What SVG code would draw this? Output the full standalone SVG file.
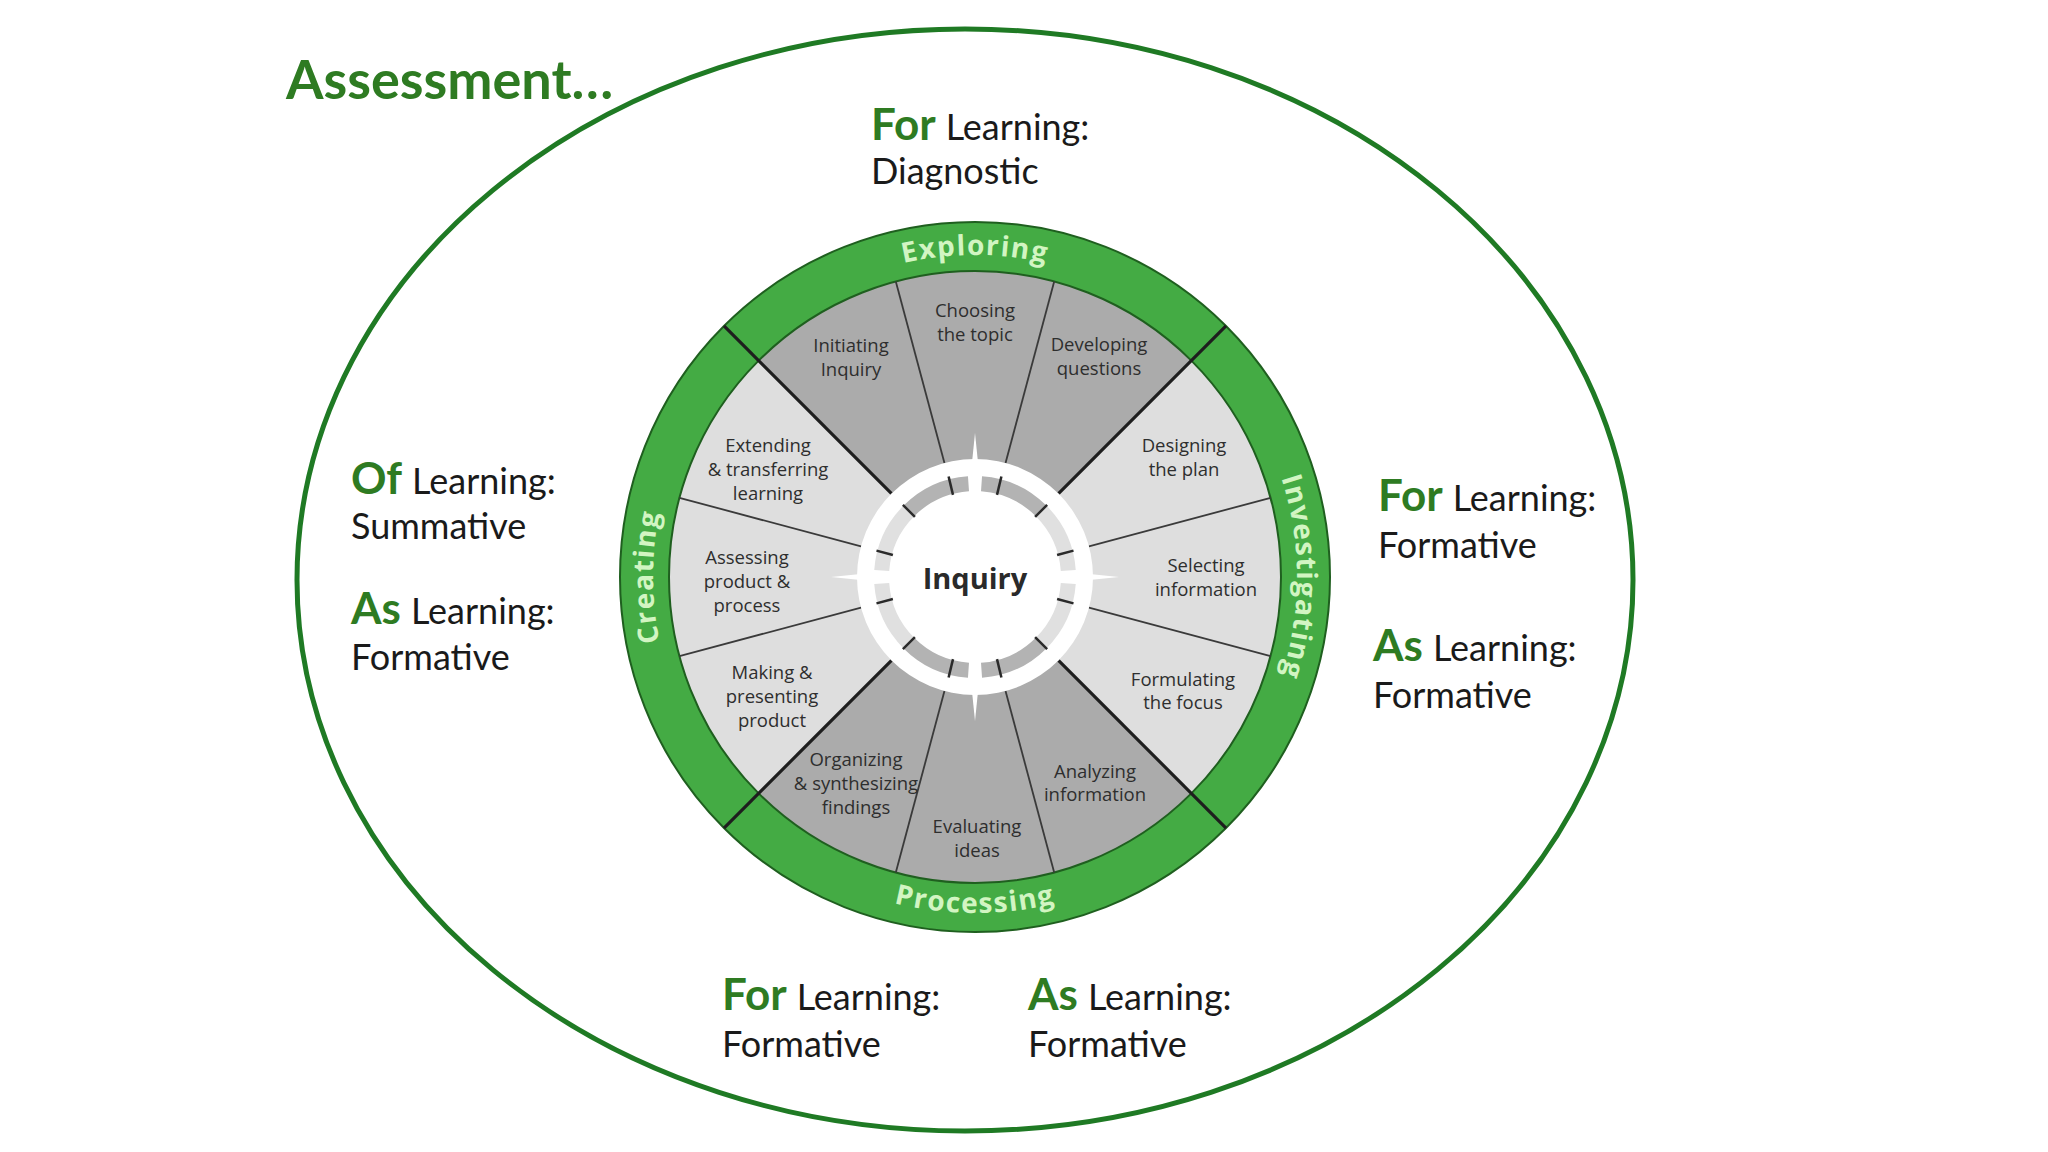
<svg xmlns="http://www.w3.org/2000/svg" xmlns:xlink="http://www.w3.org/1999/xlink" width="2048" height="1152" viewBox="0 0 2048 1152">
  <defs>
    <style>
      .outer-g { font-family: Lato, "Liberation Sans", sans-serif; font-weight: 700; fill: #2e7b22; }
      .outer-t { font-family: Lato, "Liberation Sans", sans-serif; font-weight: 400; fill: #1a1a1a; font-size: 36px; }
      .seg { font-family: "Open Sans", "Liberation Sans", sans-serif; font-size: 18.5px; fill: #2e2e2e; text-anchor: middle; }
      .ring-t { font-family: "Open Sans", "Liberation Sans", sans-serif; font-weight: 700; font-size: 28px; fill: #d2f5c2; letter-spacing: 1.5px; }
      .thin { stroke: #3a3a3a; stroke-width: 1.8; }
      .thick { stroke: #1e1e1e; stroke-width: 3.2; }
      .tick { stroke: #2a2a2a; stroke-width: 2.5; }
      .band-d { fill: none; stroke: #b3b3b3; stroke-width: 15; }
      .band-l { fill: none; stroke: #e0e0e0; stroke-width: 15; }
    </style>
    <path id="p-top" d="M653,577 A322,322 0 0 1 1297,577"/>
    <path id="p-right" d="M975,255 A322,322 0 0 1 975,899"/>
    <path id="p-bottom" d="M639,577 A336,336 0 0 0 1311,577"/>
    <path id="p-left" d="M975,899 A322,322 0 0 1 975,255"/>
  </defs>

  <rect width="2048" height="1152" fill="#ffffff"/>

  <g id="assessment-ellipse">
    <ellipse cx="965" cy="580" rx="668" ry="551" fill="none" stroke="#1f7a24" stroke-width="5"/>
  </g>

  <g id="title">
    <text class="outer-g" x="286" y="99" font-size="54">Assessment…</text>
  </g>

  <g id="label-top">
    <text x="871" y="140"><tspan class="outer-g" font-size="44">For</tspan><tspan class="outer-t" dx="10">Learning:</tspan></text>
    <text class="outer-t" x="871" y="184">Diagnostic</text>
  </g>
  <g id="label-left">
    <text x="351" y="494"><tspan class="outer-g" font-size="44">Of</tspan><tspan class="outer-t" dx="10">Learning:</tspan></text>
    <text class="outer-t" x="351" y="539">Summative</text>
    <text x="351" y="624"><tspan class="outer-g" font-size="44">As</tspan><tspan class="outer-t" dx="10">Learning:</tspan></text>
    <text class="outer-t" x="351" y="670">Formative</text>
  </g>
  <g id="label-right">
    <text x="1378" y="511"><tspan class="outer-g" font-size="44">For</tspan><tspan class="outer-t" dx="10">Learning:</tspan></text>
    <text class="outer-t" x="1378" y="558">Formative</text>
    <text x="1373" y="661"><tspan class="outer-g" font-size="44">As</tspan><tspan class="outer-t" dx="10">Learning:</tspan></text>
    <text class="outer-t" x="1373" y="708">Formative</text>
  </g>
  <g id="label-bottom">
    <text x="722" y="1010"><tspan class="outer-g" font-size="44">For</tspan><tspan class="outer-t" dx="10">Learning:</tspan></text>
    <text class="outer-t" x="722" y="1057">Formative</text>
    <text x="1028" y="1010"><tspan class="outer-g" font-size="44">As</tspan><tspan class="outer-t" dx="10">Learning:</tspan></text>
    <text class="outer-t" x="1028" y="1057">Formative</text>
  </g>

  <g id="wheel">
    <g id="segments">
      <circle cx="975" cy="577" r="306" fill="#dedede"/>
      <path d="M975,577 L1191.37,360.63 A306,306 0 0 0 758.63,360.63 Z" fill="#ababab"/>
      <path d="M975,577 L758.63,793.37 A306,306 0 0 0 1191.37,793.37 Z" fill="#ababab"/>
    </g>
    <g id="phase-ring">
      <circle cx="975" cy="577" r="330.5" fill="none" stroke="#44ab44" stroke-width="49"/>
      <circle cx="975" cy="577" r="355" fill="none" stroke="#1f5f1f" stroke-width="2"/>
      <circle cx="975" cy="577" r="306" fill="none" stroke="#1f5f1f" stroke-width="2"/>
    </g>
    <g id="connectors">
      <line class="thin" x1="1088.98" y1="546.46" x2="1270.57" y2="497.80"/>
      <line class="thin" x1="1088.98" y1="607.54" x2="1270.57" y2="656.20"/>
      <line class="thin" x1="861.02" y1="546.46" x2="679.43" y2="497.80"/>
      <line class="thin" x1="861.02" y1="607.54" x2="679.43" y2="656.20"/>
      <line class="thin" x1="1005.54" y1="463.02" x2="1054.20" y2="281.43"/>
      <line class="thin" x1="944.46" y1="463.02" x2="895.80" y2="281.43"/>
      <line class="thin" x1="944.46" y1="690.98" x2="895.80" y2="872.57"/>
      <line class="thin" x1="1005.54" y1="690.98" x2="1054.20" y2="872.57"/>
      <line class="thick" x1="1058.44" y1="493.56" x2="1226.02" y2="325.98"/>
      <line class="thick" x1="891.56" y1="493.56" x2="723.98" y2="325.98"/>
      <line class="thick" x1="891.56" y1="660.44" x2="723.98" y2="828.02"/>
      <line class="thick" x1="1058.44" y1="660.44" x2="1226.02" y2="828.02"/>
    </g>
    <g id="hub">
      <circle cx="975" cy="577" r="118" fill="#ffffff"/>
      <path class="band-l" d="M1068.27,570.48 A93.5,93.5 0 0 0 1041.11,510.89"/>
      <path class="band-d" d="M1041.11,510.89 A93.5,93.5 0 0 0 981.52,483.73"/>
      <path class="band-d" d="M968.48,483.73 A93.5,93.5 0 0 0 908.89,510.89"/>
      <path class="band-l" d="M908.89,510.89 A93.5,93.5 0 0 0 881.73,570.48"/>
      <path class="band-l" d="M881.73,583.52 A93.5,93.5 0 0 0 908.89,643.11"/>
      <path class="band-d" d="M908.89,643.11 A93.5,93.5 0 0 0 968.48,670.27"/>
      <path class="band-d" d="M981.52,670.27 A93.5,93.5 0 0 0 1041.11,643.11"/>
      <path class="band-l" d="M1041.11,643.11 A93.5,93.5 0 0 0 1068.27,583.52"/>
      <line class="tick" x1="1057.10" y1="555.00" x2="1073.52" y2="550.60"/>
      <line class="tick" x1="1057.10" y1="599.00" x2="1073.52" y2="603.40"/>
      <line class="tick" x1="892.90" y1="555.00" x2="876.48" y2="550.60"/>
      <line class="tick" x1="892.90" y1="599.00" x2="876.48" y2="603.40"/>
      <line class="tick" x1="997.00" y1="494.90" x2="1001.40" y2="476.48"/>
      <line class="tick" x1="953.00" y1="494.90" x2="948.60" y2="476.48"/>
      <line class="tick" x1="953.00" y1="659.10" x2="948.60" y2="677.52"/>
      <line class="tick" x1="997.00" y1="659.10" x2="1001.40" y2="677.52"/>
      <line class="tick" x1="1035.10" y1="516.90" x2="1047.12" y2="504.88"/>
      <line class="tick" x1="914.90" y1="516.90" x2="902.88" y2="504.88"/>
      <line class="tick" x1="914.90" y1="637.10" x2="902.88" y2="649.12"/>
      <line class="tick" x1="1035.10" y1="637.10" x2="1047.12" y2="649.12"/>
      <g fill="#ffffff">
        <polygon points="975,433 981.5,497 968.5,497"/>
        <polygon points="975,721 981.5,657 968.5,657"/>
        <polygon points="831,577 895,570.5 895,583.5"/>
        <polygon points="1119,577 1055,570.5 1055,583.5"/>
      </g>
      <text x="975" y="589" font-family="'Open Sans', 'Liberation Sans', sans-serif" font-weight="700" font-size="29" fill="#2a2a2a" text-anchor="middle">Inquiry</text>
    </g>
    <g id="phase-labels" class="ring-t">
      <text text-anchor="middle"><textPath xlink:href="#p-top" href="#p-top" startOffset="50%">Exploring</textPath></text>
      <text text-anchor="middle"><textPath xlink:href="#p-right" href="#p-right" startOffset="50%">Investigating</textPath></text>
      <text text-anchor="middle"><textPath xlink:href="#p-bottom" href="#p-bottom" startOffset="50%">Processing</textPath></text>
      <text text-anchor="middle"><textPath xlink:href="#p-left" href="#p-left" startOffset="50%">Creating</textPath></text>
    </g>
    <g id="step-initiating"><text class="seg" x="851" y="352">Initiating<tspan x="851" dy="24">Inquiry</tspan></text></g>
    <g id="step-choosing"><text class="seg" x="975" y="317">Choosing<tspan x="975" dy="24">the topic</tspan></text></g>
    <g id="step-developing"><text class="seg" x="1099" y="351">Developing<tspan x="1099" dy="24">questions</tspan></text></g>
    <g id="step-designing"><text class="seg" x="1184" y="452">Designing<tspan x="1184" dy="24">the plan</tspan></text></g>
    <g id="step-selecting"><text class="seg" x="1206" y="572">Selecting<tspan x="1206" dy="24">information</tspan></text></g>
    <g id="step-formulating"><text class="seg" x="1183" y="686">Formulating<tspan x="1183" dy="23">the focus</tspan></text></g>
    <g id="step-analyzing"><text class="seg" x="1095" y="778">Analyzing<tspan x="1095" dy="23">information</tspan></text></g>
    <g id="step-evaluating"><text class="seg" x="977" y="833">Evaluating<tspan x="977" dy="24">ideas</tspan></text></g>
    <g id="step-organizing"><text class="seg" x="856" y="766">Organizing<tspan x="856" dy="24">&amp; synthesizing</tspan><tspan x="856" dy="24">findings</tspan></text></g>
    <g id="step-making"><text class="seg" x="772" y="679">Making &amp;<tspan x="772" dy="24">presenting</tspan><tspan x="772" dy="24">product</tspan></text></g>
    <g id="step-assessing"><text class="seg" x="747" y="564">Assessing<tspan x="747" dy="24">product &amp;</tspan><tspan x="747" dy="24">process</tspan></text></g>
    <g id="step-extending"><text class="seg" x="768" y="452">Extending<tspan x="768" dy="24">&amp; transferring</tspan><tspan x="768" dy="24">learning</tspan></text></g>
  </g>
</svg>
